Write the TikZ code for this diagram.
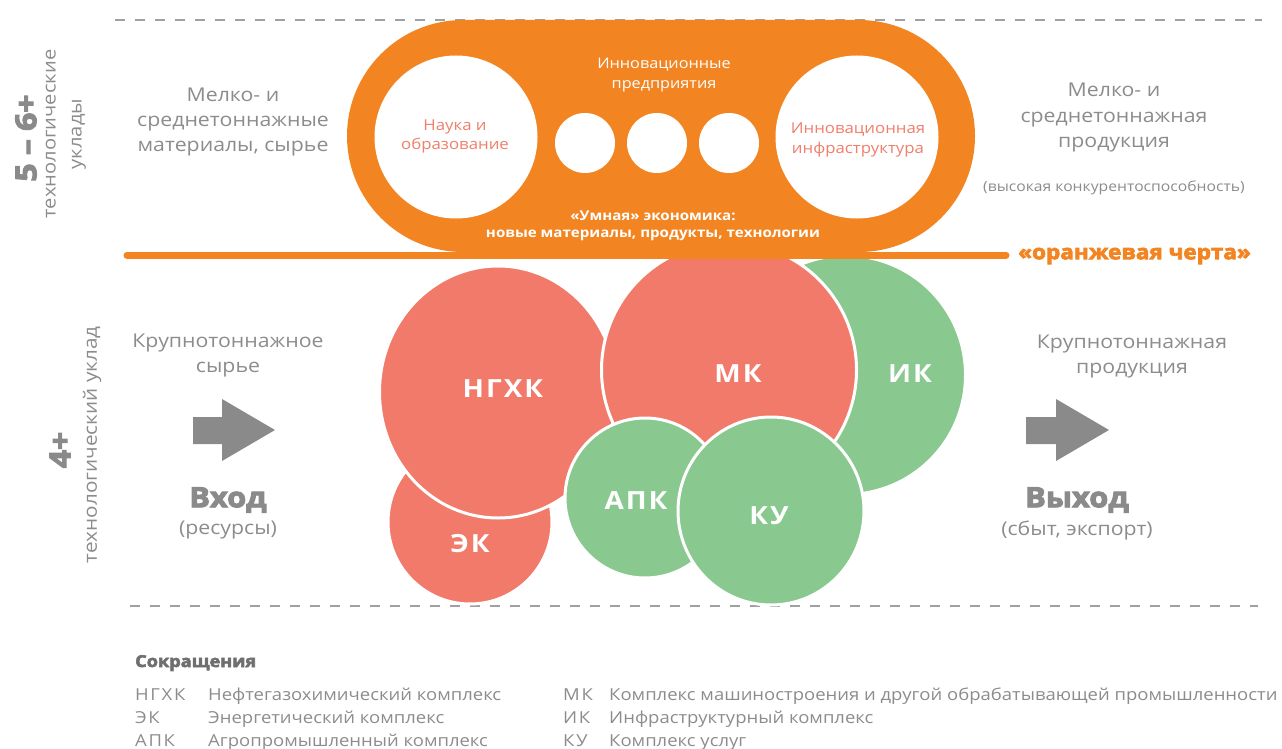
\documentclass[tikz,border=0pt]{standalone}
\usepackage{fontspec}
\setmainfont{Open Sans}[FakeStretch=1.12]
\newfontfamily\heavyfont{Open Sans}[FakeStretch=1.1,BoldFeatures={FakeBold=3.5}]
\usetikzlibrary{shapes.geometric,shapes.misc}
\definecolor{orng}{HTML}{F28522}
\definecolor{salm}{HTML}{F27A6A}
\definecolor{grn}{HTML}{89C98F}
\definecolor{tgray}{HTML}{8C8C8C}
\definecolor{dgray}{HTML}{6F6F6F}
\definecolor{agray}{HTML}{8A8A8A}
\definecolor{dashgray}{HTML}{A0A0A0}
\definecolor{intxt}{HTML}{F07F6B}
\newcommand\fsz[2]{\fontsize{#1}{#2}\selectfont}
\begin{document}
\begin{tikzpicture}[x=1pt,y=-1pt,
  txt/.style={text=tgray,align=center,inner sep=0pt},
  blob/.style={ellipse,draw=white,line width=3pt,inner sep=0pt},
  wcirc/.style={circle,fill=white,inner sep=0pt},
  lbl/.style={text=white,inner sep=0pt,font=\bfseries\fsz{25}{28}\addfontfeatures{LetterSpace=8}},
  heavy/.style={inner sep=0pt,font=\heavyfont\bfseries},
  dashline/.style={draw=dashgray,line width=1.3pt,dash pattern=on 10pt off 10pt},
  legab/.style={anchor=base west,inner sep=0pt,text=tgray,font=\fsz{16.5}{20}\addfontfeatures{LetterSpace=10}},
  legtx/.style={anchor=base west,inner sep=0pt,text=tgray,font=\fsz{16.5}{20}},
  garrow/.style={fill=agray}
]
\useasboundingbox (0,0) rectangle (1282,749);
% dashed guide lines
\coordinate (d1a) at (115,20); \coordinate (d1b) at (1262,20);
\coordinate (d2a) at (130,606); \coordinate (d2b) at (1258,606);
\draw[dashline] (d1a) -- (d1b);
\draw[dashline] (d2a) -- (d2b);
% lower bubbles
\node[blob,fill=grn,minimum width=239,minimum height=239] (ik) at (846,375) {};
\node[blob,fill=salm,minimum width=164,minimum height=164] (ek) at (470,522) {};
\node[blob,fill=salm,minimum width=237,minimum height=252] (ngkh) at (498,392) {};
\node[blob,fill=salm,minimum width=255,minimum height=255] (mk) at (729,370) {};
\node[blob,fill=grn,minimum width=160,minimum height=160] (apk) at (645,498) {};
\node[blob,fill=grn,minimum width=186,minimum height=188] (ku) at (771,511) {};
\node[lbl] (ngkhl) at (503,389) {НГХК};
\node[lbl] (mkl) at (738,374) {МК};
\node[lbl] (ikl) at (910,374) {ИК};
\node[lbl] (ekl) at (470,544) {ЭК};
\node[lbl] (apkl) at (636,501) {АПК};
\node[lbl] (kul) at (769,516) {КУ};
% orange pill
\node[rounded rectangle,fill=orng,minimum width=628,minimum height=232,inner sep=0pt] (pill) at (661,136) {};
\node[wcirc,minimum size=163] (nauka) at (456,137) {};
\node[wcirc,minimum size=163] (infra) at (857,137) {};
\node[wcirc,minimum size=60] (s1) at (585,143) {};
\node[wcirc,minimum size=60] (s2) at (657,143) {};
\node[wcirc,minimum size=60] (s3) at (729,143) {};
\node[txt,text=white,font=\fsz{14.5}{20}] (innov) at (664,75) {Инновационные\\предприятия};
\node[txt,text=intxt,font=\fsz{15}{19}] (naukat) at (455,136) {Наука и\\образование};
\node[txt,text=intxt,font=\fsz{15}{20}] (infrat) at (858,140) {Инновационная\\инфраструктура};
\node[txt,text=white,font=\bfseries\fsz{13.5}{17}] (smart) at (653,226) {«Умная» экономика:\\новые материалы, продукты, технологии};
% orange line
\coordinate (la) at (127,255); \coordinate (lb) at (1006,255);
\draw[orng,line width=7pt,line cap=round] (la) -- (lb);
\node[heavy,anchor=west,text=orng,font=\heavyfont\bfseries\fsz{20.5}{24}] (cherta) at (1018,256) {«оранжевая черта»};
% side texts
\node[txt,font=\fsz{19}{25.5}] (inhi) at (233,122) {Мелко- и\\среднетоннажные\\материалы, сырье};
\node[txt,font=\fsz{19}{25.5}] (outhi) at (1114,118) {Мелко- и\\среднетоннажная\\продукция};
\node[txt,font=\fsz{14}{16}] (konk) at (1114,188) {(высокая конкурентоспособность)};
\node[txt,font=\fsz{19}{25}] (inlo) at (228,355) {Крупнотоннажное\\сырье};
\node[txt,font=\fsz{19}{25}] (outlo) at (1132,356) {Крупнотоннажная\\продукция};
% block arrows
\fill[garrow] (193,417) -- (222,417) -- (222,399) -- (275,430) -- (222,461) -- (222,444) -- (193,444) -- cycle;
\fill[garrow] (1026,417) -- (1056,417) -- (1056,399) -- (1109,430) -- (1056,461) -- (1056,444) -- (1026,444) -- cycle;
\node[heavy,text=agray,font=\heavyfont\bfseries\fsz{28}{30}] (vhod) at (228,500) {Вход};
\node[txt,font=\fsz{19}{22}] (res) at (228,530) {(ресурсы)};
\node[heavy,text=agray,font=\heavyfont\bfseries\fsz{28}{30}] (vyhod) at (1077,500) {Выход};
\node[txt,font=\fsz{19}{22}] (sbyt) at (1077,530) {(сбыт, экспорт)};
% vertical labels
\node[heavy,rotate=90,text=agray,font=\heavyfont\bfseries\fsz{29}{30}] (t56) at (26,138) {5 – 6+};
\node[txt,rotate=90,font=\fsz{18}{26}] (tu) at (66,134) {технологические\\уклады};
\node[heavy,rotate=90,text=agray,font=\heavyfont\bfseries\fsz{29}{30}] (t4) at (60,450) {4+};
\node[txt,rotate=90,font=\fsz{18.5}{22}] (tu4) at (92,445) {технологический уклад};
% legend
\node[heavy,anchor=base west,text=dgray,font=\heavyfont\bfseries\fsz{16.5}{18}] (abbr) at (135,667) {Сокращения};
\node[legab] (a1) at (135,700) {НГХК};
\node[legtx] (b1) at (208,700) {Нефтегазохимический комплекс};
\node[legab] (a2) at (135,723) {ЭК};
\node[legtx] (b2) at (208,723) {Энергетический комплекс};
\node[legab] (a3) at (135,746) {АПК};
\node[legtx] (b3) at (208,746) {Агропромышленный комплекс};
\node[legab] (a4) at (563,700) {МК};
\node[legtx] (b4) at (609,700) {Комплекс машиностроения и другой обрабатывающей промышленности};
\node[legab] (a5) at (563,723) {ИК};
\node[legtx] (b5) at (609,723) {Инфраструктурный комплекс};
\node[legab] (a6) at (563,746) {КУ};
\node[legtx] (b6) at (609,746) {Комплекс услуг};
\end{tikzpicture}
\end{document}
